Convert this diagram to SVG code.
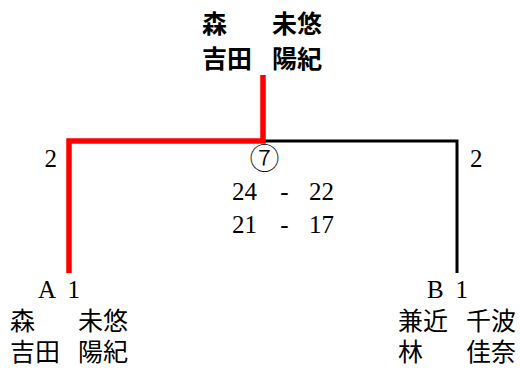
<svg xmlns="http://www.w3.org/2000/svg" width="520" height="368" viewBox="0 0 520 368">
<style>
.jp{font-family:"Noto Sans CJK JP","Noto Sans CJK SC",sans-serif;font-size:25px;fill:#000}
.b{font-weight:bold}
.n{font-family:"Liberation Serif",serif;font-size:25px;fill:#000}
.win{fill:none;stroke:#ff0000;stroke-width:5.5}
.lose{fill:none;stroke:#000;stroke-width:3}
</style>
<rect width="520" height="368" fill="#fff"/>
<g id="connectors">
<path class="lose" d="M263,141 H457 V273"/>
<path class="win" d="M263,75 V141 H69 V273"/>
</g>
<g id="winner">
<text class="jp b" x="202" y="33">森</text>
<text class="jp b" x="272" y="33">未悠</text>
<text class="jp b" x="202" y="68">吉田</text>
<text class="jp b" x="272" y="68">陽紀</text>
</g>
<g id="match">
<text class="n" x="57" y="167" text-anchor="end">2</text>
<text class="n" x="470" y="167">2</text>
<text class="jp" x="264.5" y="169" text-anchor="middle" style="font-size:30px;font-weight:300">⑦</text>
<text class="n" x="232" y="200">24</text>
<text class="n" x="284.5" y="200" text-anchor="middle">-</text>
<text class="n" x="334" y="200" text-anchor="end">22</text>
<text class="n" x="232" y="233">21</text>
<text class="n" x="284.5" y="233" text-anchor="middle">-</text>
<text class="n" x="334" y="233" text-anchor="end">17</text>
</g>
<g id="teamA">
<text class="n" x="38" y="298">A</text>
<text class="n" x="80" y="298" text-anchor="end">1</text>
<text class="jp" x="10" y="330">森</text>
<text class="jp" x="78" y="330">未悠</text>
<text class="jp" x="10" y="361">吉田</text>
<text class="jp" x="78" y="361">陽紀</text>
</g>
<g id="teamB">
<text class="n" x="427" y="298">B</text>
<text class="n" x="468" y="298" text-anchor="end">1</text>
<text class="jp" x="398" y="330">兼近</text>
<text class="jp" x="466" y="330">千波</text>
<text class="jp" x="398" y="361">林</text>
<text class="jp" x="466" y="361">佳奈</text>
</g>
</svg>
